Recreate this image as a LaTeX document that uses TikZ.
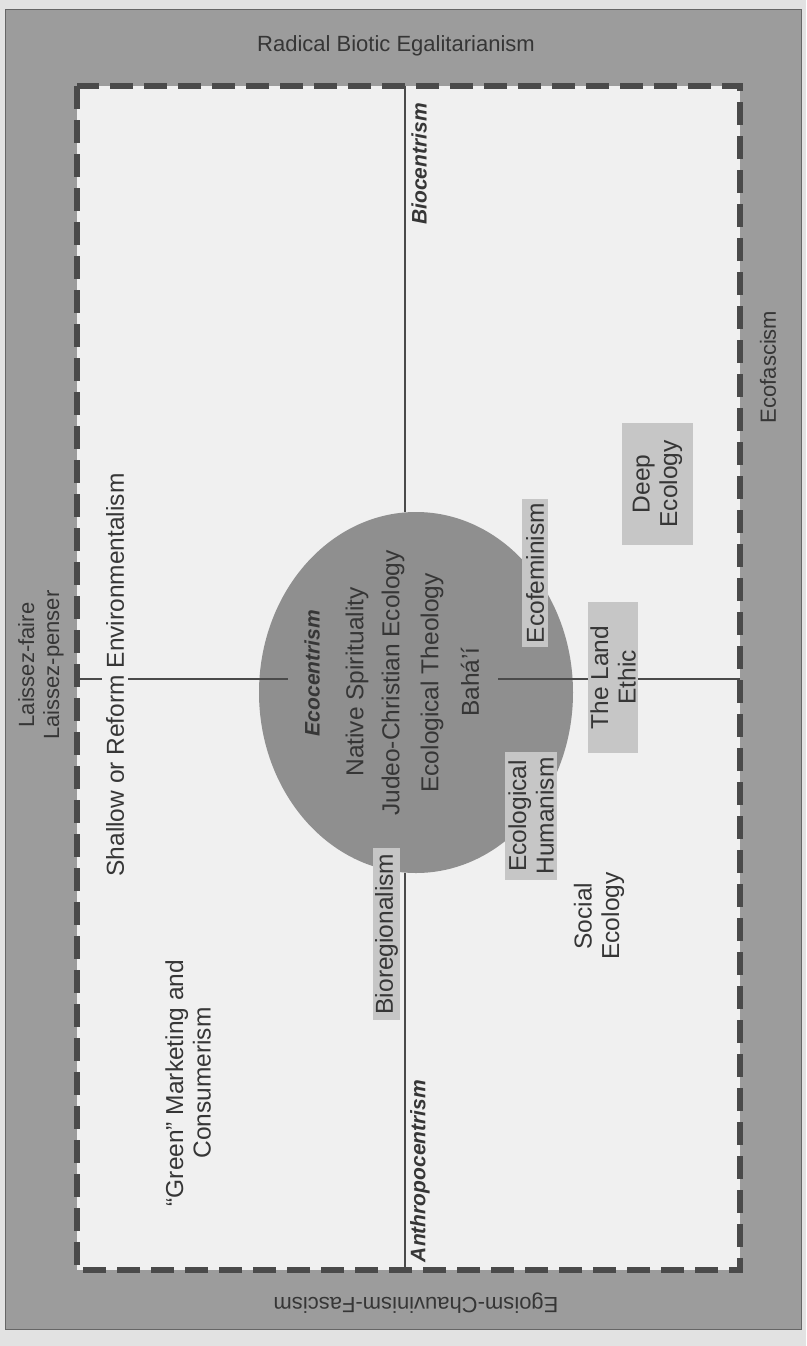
\documentclass[tikz,border=0pt]{standalone}
\usepackage{fontspec}
\setmainfont{Liberation Sans}
\usetikzlibrary{shapes.geometric}
\definecolor{outergray}{HTML}{9C9C9C}
\definecolor{innerwhite}{HTML}{F0F0F0}
\definecolor{circgray}{HTML}{8F8F8F}
\definecolor{boxgray}{HTML}{C6C6C6}
\definecolor{inkgray}{HTML}{363636}
\definecolor{linegray}{HTML}{4A4A4A}
\definecolor{pagegray}{HTML}{E2E2E2}
\begin{document}
\begin{tikzpicture}[x=1pt,y=-1pt,
  lbl/.style={font=\fontsize{24.5}{27.5}\selectfont, text=inkgray, align=center, inner sep=1pt},
  vlbl/.style={lbl, rotate=90},
  rim/.style={font=\fontsize{22}{25}\selectfont, text=inkgray, align=center, inner sep=1pt},
  axislbl/.style={font=\fontsize{21}{24}\selectfont\bfseries\itshape, text=inkgray, rotate=90, inner sep=1pt},
  tagbox/.style={vlbl, fill=boxgray, inner sep=0pt},
  rule/.style={draw=linegray, line width=1.5pt},
]
\useasboundingbox (0,0) rectangle (806,1346);
\fill[pagegray] (0,0) rectangle (806,1346);
\draw[fill=outergray, draw=black!60, line width=1pt] (5,10) rectangle (801,1329);
\fill[innerwhite] (77,86) rectangle (740,1270);
\draw[linegray, line width=5.5pt, dash pattern=on 23pt off 11pt] (77,86) rectangle (740,1270);

% rim labels
\node[rim] (radical) at (396,46) {Radical Biotic Egalitarianism};
\node[rim, rotate=180] (egoism) at (416,1303) {Egoism-Chauvinism-Fascism};
\node[rim, rotate=90] (ecofascism) at (768,367) {Ecofascism};
\node[rim, rotate=90] (laissez) at (41,665) {Laissez-faire\\Laissez-penser};

% axes
\coordinate (vT) at (405,86);
\coordinate (vB) at (405,1270);
\coordinate (hL) at (77,679);
\coordinate (hR) at (740,679);

\node[ellipse, fill=circgray, minimum width=314pt, minimum height=361pt, inner sep=0pt] (ell) at (416,692.5) {};

\node[axislbl] (bio) at (419,164) {Biocentrism};
\node[axislbl] (anthro) at (420,1171) {Anthropocentrism};

% circle contents
\node[axislbl] (eco) at (312,673) {Ecocentrism};
\node[vlbl] (native) at (357,682) {Native Spirituality};
\node[vlbl] (judeo) at (393,683) {Judeo-Christian Ecology};
\node[vlbl] (theology) at (432,683) {Ecological Theology};
\node[vlbl] (bahai) at (470,682) {Bahá’í};

\coordinate (ecoL) at ([xshift=-15pt]eco.north);
\coordinate (bahaiR) at ([xshift=18pt]bahai.south);

\draw[rule] (vT) -- (vT |- ell.north);
\draw[rule] (vB) -- (vB |- ell.south);
\draw[rule] (hL) -- (ecoL |- hL);
\draw[rule] (bahaiR |- hL) -- (hR);

% labels over the axes
\node[vlbl, fill=innerwhite, inner sep=4pt] (shallow) at (115,675) {Shallow or Reform Environmentalism};
\node[tagbox, minimum width=148pt, minimum height=26pt] (ecofem) at (535,573) {Ecofeminism};
\node[tagbox, minimum width=151pt, minimum height=50pt] (land) at (613,677.5) {The Land\\Ethic};
\node[tagbox, minimum width=122pt, minimum height=71pt] (deep) at (657.5,484) {Deep\\Ecology};
\node[tagbox, minimum width=128pt, minimum height=52pt] (humanism) at (531,816) {Ecological\\Humanism};
\node[tagbox, minimum width=172pt, minimum height=27pt] (biore) at (386.5,934) {Bioregionalism};
\node[vlbl] (social) at (599,916) {Social\\Ecology};
\node[vlbl] (green) at (188,1083) {“Green” Marketing and\\Consumerism};
\end{tikzpicture}
\end{document}
